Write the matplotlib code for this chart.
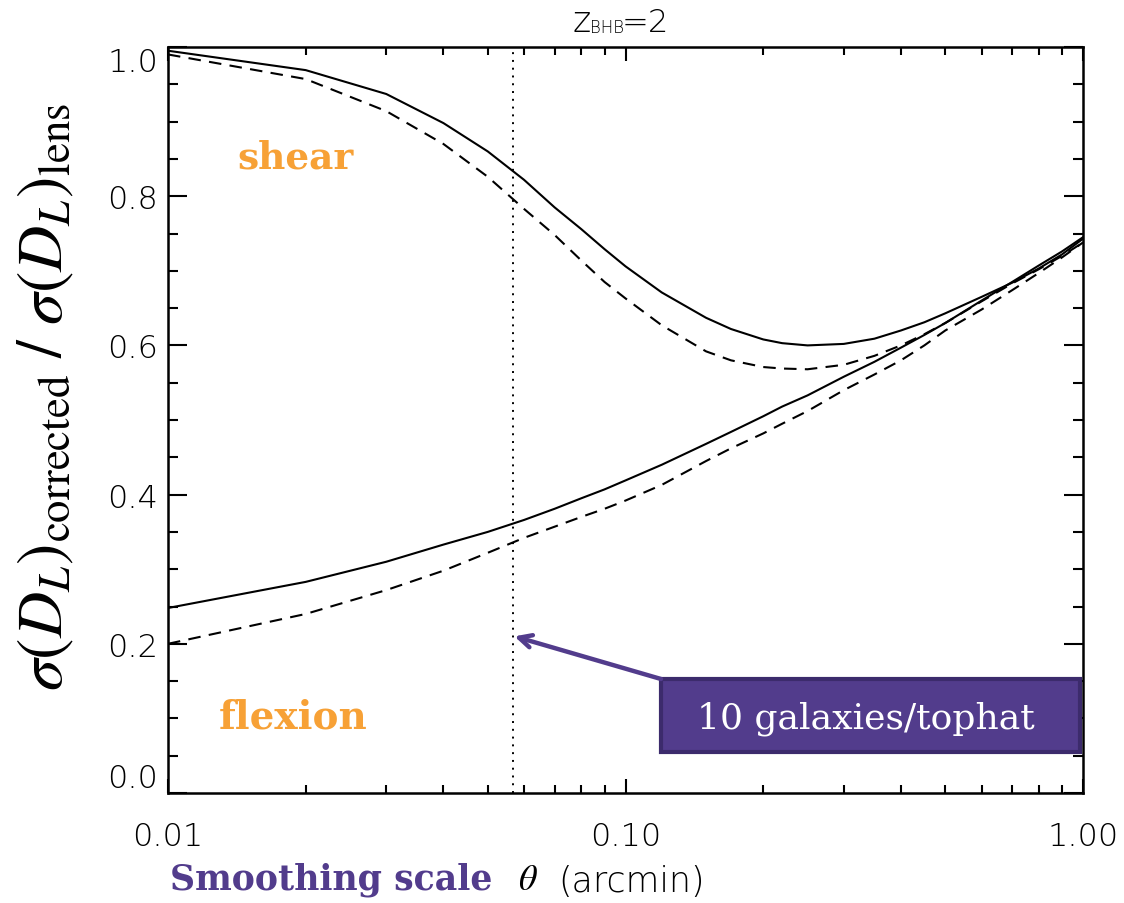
import numpy as np
import matplotlib
matplotlib.use("Agg")
import matplotlib.pyplot as plt
from matplotlib.ticker import FixedLocator, NullFormatter, LogLocator, MultipleLocator
from matplotlib.patches import Rectangle

# Smoothing scale (arcmin)
theta = [0.01, 0.02, 0.03, 0.04, 0.05, 0.06, 0.07, 0.08, 0.09, 0.10,
         0.12, 0.15, 0.17, 0.20, 0.22, 0.25, 0.30, 0.35, 0.40, 0.45, 0.50,
         0.60, 0.70, 0.80, 0.90, 1.00]

# sigma ratio, shear
shear_solid = [0.995, 0.969, 0.937, 0.898, 0.860, 0.822, 0.785, 0.756, 0.729, 0.706,
               0.671, 0.637, 0.622, 0.608, 0.603, 0.600, 0.602, 0.609, 0.620, 0.631, 0.643,
               0.665, 0.684, 0.703, 0.722, 0.743]
shear_dashed = [0.990, 0.957, 0.914, 0.870, 0.826, 0.783, 0.748, 0.714, 0.685, 0.663,
                0.627, 0.592, 0.580, 0.571, 0.569, 0.568, 0.574, 0.586, 0.600, 0.615, 0.630,
                0.659, 0.683, 0.702, 0.720, 0.738]

# sigma ratio, flexion
flex_solid = [0.248, 0.283, 0.310, 0.333, 0.350, 0.366, 0.381, 0.395, 0.407, 0.419,
              0.440, 0.468, 0.484, 0.505, 0.518, 0.533, 0.558, 0.578, 0.597, 0.614, 0.630,
              0.660, 0.685, 0.707, 0.726, 0.745]
flex_dashed = [0.200, 0.240, 0.272, 0.298, 0.322, 0.342, 0.357, 0.370, 0.381, 0.392,
               0.413, 0.445, 0.462, 0.482, 0.495, 0.512, 0.540, 0.561, 0.580, 0.600, 0.620,
               0.648, 0.674, 0.697, 0.718, 0.738]

theta_marker = 0.0567
box_text = "10 galaxies/tophat"

PURPLE = "#523c8c"
PURPLE_DARK = "#3c2b6c"
ORANGE = "#f7a136"
TEXT_DARK = "black"
W, H = 1124, 904

fig = plt.figure(figsize=(W / 100, H / 100), dpi=100)
ax = fig.add_axes([168 / W, 1 - 794 / H, (1083 - 168) / W, (794 - 48) / H])

ax.plot(theta, shear_solid, color="black", lw=1.5)
ax.plot(theta, shear_dashed, color="black", lw=1.5, dashes=(6, 4))
ax.plot(theta, flex_solid, color="black", lw=1.5)
ax.plot(theta, flex_dashed, color="black", lw=1.5, dashes=(6, 4))
ax.axvline(theta_marker, color="black", lw=1.4, dashes=(1, 3))

ax.set_xscale("log")
ax.set_xlim(0.01, 1.0)
ax.set_ylim(0.0, 1.0)

tick_font = dict(family="DejaVu Sans", weight="light", size=23, color=TEXT_DARK)
ax.xaxis.set_major_locator(FixedLocator([0.01, 0.1, 1.0]))
ax.set_xticklabels(["0.01", "0.10", "1.00"], fontdict=tick_font)
ax.xaxis.set_minor_locator(LogLocator(base=10, subs=np.arange(2, 10)))
ax.xaxis.set_minor_formatter(NullFormatter())
ax.yaxis.set_major_locator(FixedLocator([0.0, 0.2, 0.4, 0.6, 0.8, 1.0]))
ax.set_yticklabels(["0.0", "0.2", "0.4", "0.6", "0.8", "1.0"], fontdict=tick_font)
ax.yaxis.set_minor_locator(MultipleLocator(0.05))

ax.tick_params(which="both", direction="in", top=True, right=True, color="black")
ax.tick_params(axis="y", which="major", length=14, width=1.5, pad=7)
ax.tick_params(axis="y", which="minor", length=7, width=1.5)
ax.tick_params(axis="x", which="major", length=10, width=1.5, pad=20)
ax.tick_params(axis="x", which="minor", length=5.5, width=1.5)
for s in ax.spines.values():
    s.set_linewidth(1.8)

ylabels = ax.get_yticklabels()
ylabels[0].set_verticalalignment("bottom")
ylabels[-1].set_verticalalignment("top")

# labels inside the panel
ax.text(0.139, 0.853, "shear", transform=ax.transAxes, ha="center", va="center",
        family="DejaVu Serif", weight="bold", size=27, color=ORANGE)
ax.text(0.137, 0.102, "flexion", transform=ax.transAxes, ha="center", va="center",
        family="DejaVu Serif", weight="bold", size=28, color=ORANGE)

# annotation box with arrow pointing at the marker line
bx0, bx1 = (661 - 168) / 915, (1080 - 168) / 915
by0, by1 = (794 - 753) / 746, (794 - 680) / 746
ax.add_patch(Rectangle((bx0, by0), bx1 - bx0, by1 - by0, transform=ax.transAxes,
                       facecolor=PURPLE, edgecolor=PURPLE_DARK, lw=3, zorder=5,
                       clip_on=False))
ax.text((bx0 + bx1) / 2 - 0.005, (by0 + by1) / 2 - 0.003, box_text, transform=ax.transAxes,
        ha="center", va="center", family="DejaVu Serif", size=26, color="white",
        zorder=6)
ax.annotate("", xy=(theta_marker * 1.008, 0.21), xycoords="data",
            xytext=(bx0, by1), textcoords="axes fraction",
            arrowprops=dict(arrowstyle="->,head_length=0.9,head_width=0.45",
                            color=PURPLE, lw=3.2, shrinkA=0, shrinkB=0),
            zorder=5)

# title: z_BHB = 2
light = dict(family="DejaVu Sans", weight="light", color=TEXT_DARK, va="baseline", ha="left")
fig.text(572 / W, 1 - 32 / H, "z", size=25, **light)
fig.text(590 / W, 1 - 33 / H, "BHB", size=12, **light)
fig.text(622 / W, 1 - 32 / H, "=2", size=23, **light)

# y-axis label
fig.text(45 / W, 1 - 397 / H,
         r"$\sigma(D_L)_{\mathrm{corrected}}\ /\ \sigma(D_L)_{\mathrm{lens}}$",
         rotation=90, ha="center", va="center", size=46, math_fontfamily="stix",
         color="black")

# x-axis label
fig.text(170 / W, 1 - 880 / H, "Smoothing scale", ha="left", va="center",
         family="DejaVu Serif", weight="bold", size=25, color=PURPLE)
fig.text(528 / W, 1 - 880 / H, r"$\theta$", ha="center", va="center", size=26,
         math_fontfamily="stix", color="black")
fig.text(558 / W, 1 - 882 / H, "(arcmin)", ha="left", va="center",
         family="DejaVu Sans", weight="light", size=25, color=TEXT_DARK)

fig.savefig("out.png", dpi=100)
